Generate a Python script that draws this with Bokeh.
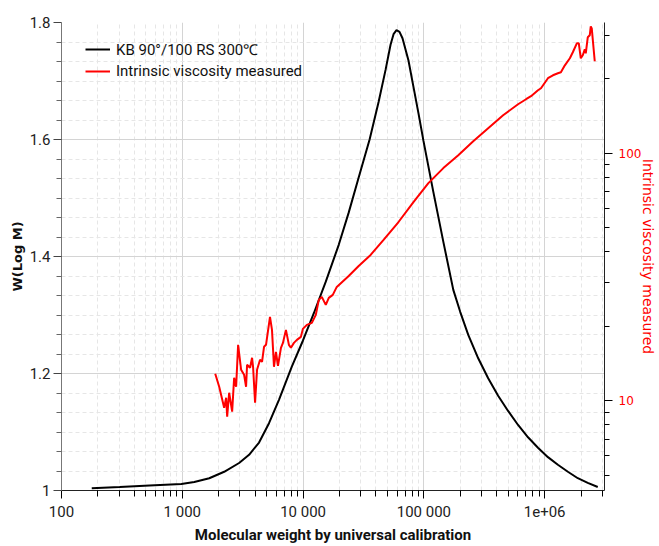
from bokeh.plotting import figure
from bokeh.models import LogAxis, LogScale, Range1d, FixedTicker, Legend, LegendItem, ColumnDataSource
from bokeh.embed import file_html
from bokeh.resources import INLINE

# --- data ---------------------------------------------------------------
mw_dist = [178, 303, 535, 982, 1257, 1672, 2222, 2954, 3573, 4320, 5224, 6316,
           8083, 9963, 12280, 15420, 19740, 23860, 28860, 35550, 42190, 48190,
           52990, 56100, 59370, 62860, 66550, 74590, 82020, 90190, 99160,
           119900, 145000, 175300, 200200, 233100, 281800, 340800, 412000,
           498100, 602500, 728500, 880500, 1065000, 1287000, 1557000,
           1882000, 2275000, 2752000]
w_logm = [1.004, 1.006, 1.0085, 1.011, 1.0145, 1.021, 1.032, 1.047, 1.061,
          1.082, 1.115, 1.155, 1.212, 1.256, 1.303, 1.357, 1.420, 1.475,
          1.535, 1.600, 1.664, 1.719, 1.762, 1.780, 1.787, 1.784, 1.773,
          1.735, 1.690, 1.645, 1.598, 1.510, 1.425, 1.343, 1.305, 1.266,
          1.226, 1.192, 1.162, 1.136, 1.112, 1.091, 1.073, 1.057, 1.044,
          1.032, 1.021, 1.013, 1.006]

mw_visc = [1874, 2021, 2222, 2308, 2353, 2444, 2587, 2687, 2791, 2899, 3069,
           3249, 3374, 3439, 3641, 3782, 3855, 4005, 4159, 4403, 4574, 4751,
           4934, 5323, 5529, 5743, 5965, 6197, 6559, 6814, 7212, 7636, 7931,
           8397, 8890, 9592, 9963, 10750, 11820, 12750, 13500, 14290, 15420,
           16330, 17620, 19010, 23860, 28860, 36240, 46390, 61670, 81990,
           109000, 144970, 192760, 256300, 340800, 453100, 602500, 701300,
           771000, 880500, 932300, 1065000, 1171000, 1287000, 1363000,
           1470000, 1617000, 1711000, 1847000, 1918000, 1992000, 2069000,
           2149000, 2190000, 2275000, 2363000, 2409000, 2455000, 2599000]
intrinsic_visc = [12.85, 11.39, 9.37, 10.28, 8.62, 10.77, 9.03, 12.38, 11.39,
                  16.82, 13.34, 12.73, 11.39, 13.97, 13.59, 14.91, 13.71, 9.81,
                  13.34, 14.63, 14.36, 16.51, 16.82, 21.82, 19.33, 13.71, 15.76,
                  13.84, 16.36, 17.13, 19.33, 16.82, 16.36, 17.13, 17.62, 18.11,
                  19.51, 20.25, 20.63, 22.23, 25.55, 26.27, 24.39, 26.02, 26.76,
                  28.82, 31.92, 35.03, 38.80, 44.60, 52.70, 63.44, 75.68, 87.01,
                  98.15, 111.8, 126.1, 142.3, 157.6, 165.1, 169.8, 179.5, 182.9,
                  200.7, 206.3, 210.2, 212.1, 226.3, 241.6, 255.5, 277.7, 277.7,
                  241.6, 248.4, 262.7, 253.1, 293.6, 299.1, 325.1, 319.2, 235.0]

x_ticks = [100, 1000, 10000, 100000, 1000000]
x_tick_labels = ["100", "1 000", "10 000", "100 000", "1e+06"]
y_ticks = [1, 1.2, 1.4, 1.6, 1.8]
y_tick_labels = ["1", "1.2", "1.4", "1.6", "1.8"]
visc_ticks = [10, 100]
visc_tick_labels = ["10", "100"]

series_names = ["KB 90°/100 RS 300℃", "Intrinsic viscosity measured"]

# --- figure -------------------------------------------------------------
FONT = "Roboto"

p = figure(width=659, height=546, x_axis_type="log",
           x_range=Range1d(100, 3.13e6), y_range=Range1d(1.0, 1.8),
           output_backend="svg", toolbar_location=None,
           min_border_left=61, min_border_right=52,
           min_border_top=22, min_border_bottom=55)
p.outline_line_color = None
p.background_fill_color = "white"
p.extra_y_ranges = {"visc": Range1d(4.34, 337)}
p.extra_y_scales = {"visc": LogScale()}

x_minor = [k * d for d in [100, 1000, 10000, 100000, 1000000] for k in range(2, 10)]
p.xaxis.ticker = FixedTicker(ticks=x_ticks, minor_ticks=x_minor)
p.xaxis.major_label_overrides = dict(zip(x_ticks, x_tick_labels))

y_minor = [1 + k / 30 for k in range(1, 24) if k % 6 != 0]
p.yaxis.ticker = FixedTicker(ticks=y_ticks, minor_ticks=y_minor)
p.yaxis.major_label_overrides = dict(zip(y_ticks, y_tick_labels))

for ax in (p.xaxis[0], p.yaxis[0]):
    ax.major_label_text_font = FONT
    ax.major_label_text_font_size = "15px"
    ax.major_label_text_color = "#222222"
    ax.axis_label_text_font_style = "bold"
    ax.axis_label_text_color = "#111111"
    ax.major_tick_in = 0
    ax.minor_tick_in = 0

p.xaxis.axis_label = "Molecular weight by universal calibration"
p.xaxis.axis_label_text_font = FONT
p.xaxis.axis_label_text_font_size = "15px"
p.xaxis.axis_line_color = "#222222"
p.xaxis.major_tick_out = 8
p.xaxis.minor_tick_out = 6
p.xaxis.major_label_standoff = 4
p.xaxis.axis_label_standoff = 2

p.yaxis.axis_label = "W(Log M)"
p.yaxis.axis_label_text_font = "DejaVu Sans"
p.yaxis.axis_label_text_font_size = "13px"
p.yaxis.axis_line_color = "#777777"
p.yaxis.major_tick_line_color = "#444444"
p.yaxis.minor_tick_line_color = "#666666"
p.yaxis.major_tick_out = 8
p.yaxis.minor_tick_out = 5
p.yaxis.major_label_standoff = 3
p.yaxis.axis_label_standoff = 2

raxis = LogAxis(y_range_name="visc", axis_label="Intrinsic viscosity measured",
                ticker=FixedTicker(ticks=visc_ticks,
                                   minor_ticks=[5, 6, 7, 8, 9, 20, 30, 40, 50, 60, 70, 80, 90, 200, 300]))
raxis.major_label_overrides = dict(zip(visc_ticks, visc_tick_labels))
raxis.axis_label_text_color = "red"
raxis.axis_label_text_font = "DejaVu Sans"
raxis.axis_label_text_font_size = "14px"
raxis.axis_label_text_font_style = "normal"
raxis.major_label_text_color = "red"
raxis.major_label_text_font = "DejaVu Sans"
raxis.major_label_text_font_size = "12px"
raxis.axis_line_color = "#222222"
raxis.major_tick_out = 8
raxis.minor_tick_out = 5
raxis.major_tick_in = 0
raxis.minor_tick_in = 0
raxis.major_label_standoff = 6
raxis.axis_label_standoff = -4
p.add_layout(raxis, "right")

p.xgrid.grid_line_color = "#d4d4d4"
p.xgrid.minor_grid_line_color = "#e6e6e6"
p.xgrid.minor_grid_line_dash = "4 3"
p.ygrid.grid_line_color = "#d4d4d4"
p.ygrid.minor_grid_line_color = "#e6e6e6"
p.ygrid.minor_grid_line_dash = "4 3"

src_w = ColumnDataSource(dict(x=mw_dist, y=w_logm))
src_v = ColumnDataSource(dict(x=mw_visc, y=intrinsic_visc))
r1 = p.line("x", "y", source=src_w, line_color="black", line_width=2)
r2 = p.line("x", "y", source=src_v, line_color="red", line_width=2, y_range_name="visc")

legend = Legend(items=[LegendItem(label=series_names[0], renderers=[r1]),
                       LegendItem(label=series_names[1], renderers=[r2])],
                location=(24, 409))
legend.border_line_color = None
legend.background_fill_alpha = 0
legend.label_text_font = FONT
legend.label_text_font_size = "15px"
legend.label_text_color = "#111111"
legend.glyph_width = 25
legend.glyph_height = 20
legend.spacing = 2
legend.label_standoff = 6
legend.padding = 10
legend.margin = 0
p.add_layout(legend)

open("out.html", "w").write(file_html(p, INLINE))
